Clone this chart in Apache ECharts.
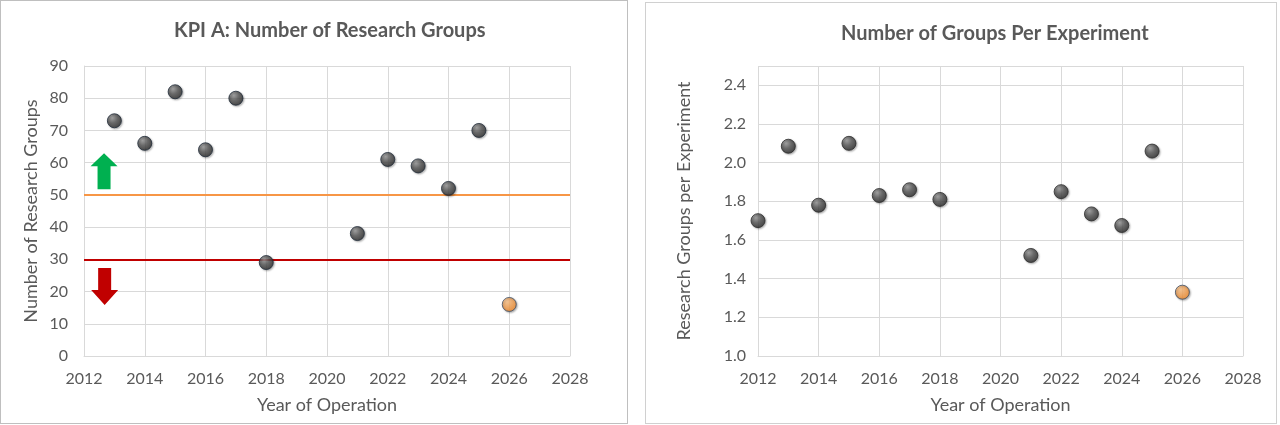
<!DOCTYPE html>
<html>
<head>
<meta charset="utf-8">
<script src="https://cdn.jsdelivr.net/npm/echarts@6/dist/echarts.min.js"></script>
<style>
  body { margin: 0; background: #fff; }
  #kpi { position: absolute; left: 0; top: 0; width: 626px; height: 422px; border: 1px solid #bfbfbf; }
  #ratio { position: absolute; left: 645px; top: 2px; width: 630px; height: 420px; border: 1px solid #d0d0d0; }
</style>
</head>
<body>
<div id="kpi"></div>
<div id="ratio"></div>
<script>
// left chart: number of research groups per year
const kpiYears = [2013, 2014, 2015, 2016, 2017, 2018, 2021, 2022, 2023, 2024, 2025];
const kpiGroups = [73, 66, 82, 64, 80, 29, 38, 61, 59, 52, 70];
const kpiForecastYear = [2026];
const kpiForecast = [16];
const targetLine = 50;
const floorLine = 30;

// right chart: groups per experiment
const ratioYears = [2012, 2013, 2014, 2015, 2016, 2017, 2018, 2021, 2022, 2023, 2024, 2025];
const ratioValues = [1.70, 2.085, 1.78, 2.10, 1.83, 1.86, 1.81, 1.52, 1.85, 1.735, 1.675, 2.06];
const ratioForecastYear = [2026];
const ratioForecast = [1.33];

const FONT = 'Lato';
const textCol = '#595959';
const gridCol = '#d9d9d9';

const sphere = {
  type: 'radial', x: 0.35, y: 0.3, r: 0.7,
  colorStops: [
    { offset: 0, color: '#9a9a9a' },
    { offset: 0.5, color: '#555555' },
    { offset: 1, color: '#2b2b2b' }
  ]
};
const orangeBall = {
  type: 'radial', x: 0.35, y: 0.3, r: 0.7,
  colorStops: [
    { offset: 0, color: '#ffc58a' },
    { offset: 1, color: '#f28a2a' }
  ]
};

function pairs(xs, ys) {
  return xs.map((x, i) => [x, ys[i]]);
}

function xAxisCfg() {
  return {
    type: 'value', min: 2012, max: 2028, interval: 2,
    name: 'Year of Operation', nameLocation: 'middle', nameGap: 40, nameMoveOverlap: false,
    nameTextStyle: { color: textCol, fontSize: 18, fontFamily: FONT },
    axisLine: { show: true, lineStyle: { color: gridCol } },
    axisTick: { show: false },
    axisLabel: { color: textCol, fontSize: 16, fontFamily: FONT, margin: 15, formatter: v => String(v) },
    splitLine: { show: true, lineStyle: { color: gridCol } }
  };
}

function dots(data, color, border) {
  return {
    type: 'scatter', data: data, symbolSize: 14,
    itemStyle: {
      color: color, borderColor: border, borderWidth: 1,
      shadowColor: 'rgba(0,0,0,0.35)', shadowBlur: 2, shadowOffsetX: 1, shadowOffsetY: 1
    },
    z: 5
  };
}

const arrowUp = 'path://M13.5,0 L27,13 L20,13 L20,36 L7,36 L7,13 L0,13 Z';
const arrowDown = 'path://M7,0 L20,0 L20,22 L27,22 L13.5,37 L0,22 L7,22 Z';

const kpiChart = echarts.init(document.getElementById('kpi'));
kpiChart.setOption({
  animation: false,
  title: {
    text: 'KPI A: Number of Research Groups', left: 168, top: 15,
    textStyle: { color: textCol, fontSize: 20, fontWeight: 'bold', fontFamily: FONT }
  },
  grid: { left: 83, right: 57, top: 65, bottom: 67 },
  xAxis: xAxisCfg(),
  yAxis: {
    type: 'value', min: 0, max: 90, interval: 10,
    name: 'Number of Research Groups', nameLocation: 'middle', nameGap: 44, nameMoveOverlap: false,
    nameTextStyle: { color: textCol, fontSize: 18, fontFamily: FONT },
    axisLine: { show: true, lineStyle: { color: gridCol } },
    axisTick: { show: false },
    axisLabel: { color: textCol, fontSize: 16, fontFamily: FONT, margin: 16 },
    splitLine: { lineStyle: { color: gridCol } }
  },
  series: [
    Object.assign(dots(pairs(kpiYears, kpiGroups), sphere, '#1f2a38'), {
      markLine: {
        silent: true, symbol: 'none', label: { show: false },
        data: [
          { yAxis: targetLine, lineStyle: { color: '#f79646', width: 2, type: 'solid' } },
          { yAxis: floorLine, lineStyle: { color: '#c00000', width: 2, type: 'solid' } }
        ]
      },
      markPoint: {
        silent: true, label: { show: false },
        data: [
          { coord: [2012.66, 57.3], symbol: arrowUp, symbolSize: [27, 36], itemStyle: { color: '#00b050' } },
          { coord: [2012.68, 21.6], symbol: arrowDown, symbolSize: [27, 37], itemStyle: { color: '#c00000' } }
        ]
      }
    }),
    dots(pairs(kpiForecastYear, kpiForecast), orangeBall, '#3b4d66')
  ]
});

const ratioChart = echarts.init(document.getElementById('ratio'));
ratioChart.setOption({
  animation: false,
  title: {
    text: 'Number of Groups Per Experiment', left: 190, top: 16,
    textStyle: { color: textCol, fontSize: 20, fontWeight: 'bold', fontFamily: FONT }
  },
  grid: { left: 112, right: 33, top: 63, bottom: 67 },
  xAxis: xAxisCfg(),
  yAxis: {
    type: 'value', min: 1.0, max: 2.5, interval: 0.2,
    name: 'Research Groups per Experiment', nameLocation: 'middle', nameGap: 65, nameMoveOverlap: false,
    nameTextStyle: { color: textCol, fontSize: 18, fontFamily: FONT },
    axisLine: { show: false },
    axisTick: { show: false },
    axisLabel: {
      color: textCol, fontSize: 16, fontFamily: FONT, margin: 12, showMaxLabel: false,
      formatter: v => v.toFixed(1)
    },
    splitLine: { lineStyle: { color: gridCol } }
  },
  series: [
    dots(pairs(ratioYears, ratioValues), sphere, '#2b2b2b'),
    dots(pairs(ratioForecastYear, ratioForecast), orangeBall, '#3b4d66')
  ]
});
</script>
</body>
</html>
